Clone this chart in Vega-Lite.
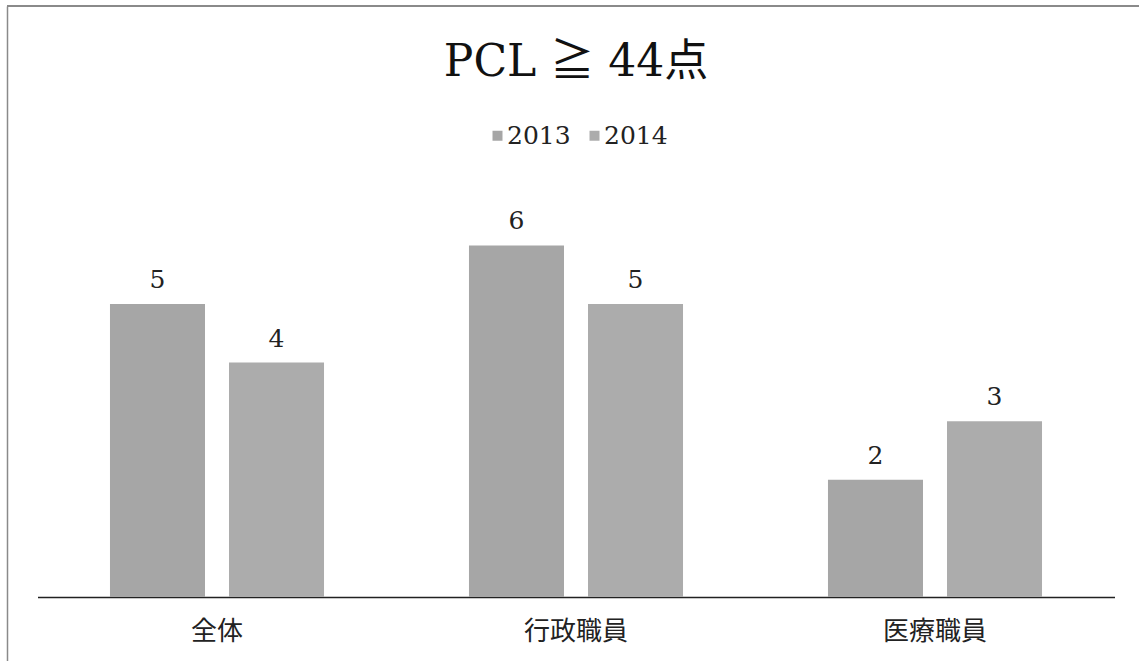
{
  "$schema": "https://vega.github.io/schema/vega-lite/v6.json",
  "width": 1132,
  "height": 655,
  "autosize": {"type": "none"},
  "padding": {"left": 7, "top": 6, "right": 0, "bottom": 0},
  "background": "white",
  "config": {"view": {"stroke": null}},
  "title": {
    "text": "PCL ≧ 44点",
    "font": "DejaVu Serif, Noto Sans CJK JP",
    "fontSize": 44,
    "fontWeight": "normal",
    "color": "#111111",
    "anchor": "middle",
    "frame": "group",
    "dx": 3,
    "offset": -80
  },
  "data": {
    "values": [
      {"group": "全体", "year": "2013", "value": 5},
      {"group": "全体", "year": "2014", "value": 4},
      {"group": "行政職員", "year": "2013", "value": 6},
      {"group": "行政職員", "year": "2014", "value": 5},
      {"group": "医療職員", "year": "2013", "value": 2},
      {"group": "医療職員", "year": "2014", "value": 3}
    ]
  },
  "layer": [
    {
      "mark": {"type": "bar"},
      "encoding": {
        "x": {
          "field": "group",
          "type": "nominal",
          "sort": ["全体", "行政職員", "医療職員"],
          "scale": {"range": [30.5, 1107.5], "paddingInner": 0, "paddingOuter": 0},
          "axis": {
            "title": null,
            "labelAngle": 0,
            "ticks": false,
            "domain": true,
            "domainColor": "#222222",
            "domainWidth": 1.5,
            "offset": -64,
            "labelFont": "Noto Sans CJK JP",
            "labelFontSize": 26,
            "labelColor": "#222222",
            "labelPadding": 21
          }
        },
        "xOffset": {
          "field": "year",
          "type": "nominal",
          "scale": {"paddingInner": 0.2017, "paddingOuter": 0.609}
        },
        "y": {
          "field": "value",
          "type": "quantitative",
          "scale": {"domain": [-1.092, 10.085], "nice": false, "zero": false},
          "axis": {
            "title": null,
            "labels": false,
            "ticks": false,
            "grid": false,
            "domain": true,
            "domainColor": "#8a8a8a",
            "domainWidth": 1.5
          }
        },
        "color": {
          "field": "year",
          "type": "nominal",
          "scale": {"range": ["#a6a6a6", "#acacac"]},
          "legend": {
            "title": null,
            "orient": "none",
            "legendX": 478,
            "legendY": 117,
            "direction": "horizontal",
            "symbolType": "square",
            "symbolSize": 100,
            "symbolStrokeWidth": 0,
            "labelFont": "DejaVu Serif",
            "labelFontSize": 25,
            "labelColor": "#222222",
            "labelOffset": -3,
            "columnPadding": 11
          }
        }
      }
    },
    {
      "mark": {
        "type": "text",
        "baseline": "bottom",
        "dy": -11,
        "font": "DejaVu Serif",
        "fontSize": 25,
        "color": "#222222"
      },
      "encoding": {
        "x": {"field": "group", "type": "nominal", "sort": ["全体", "行政職員", "医療職員"]},
        "xOffset": {"field": "year", "type": "nominal"},
        "y": {"field": "value", "type": "quantitative"},
        "text": {"field": "value", "type": "quantitative"}
      }
    },
    {
      "mark": {"type": "rule", "color": "#8a8a8a", "strokeWidth": 1.5},
      "encoding": {"y": {"datum": 10.085, "type": "quantitative"}}
    }
  ]
}
